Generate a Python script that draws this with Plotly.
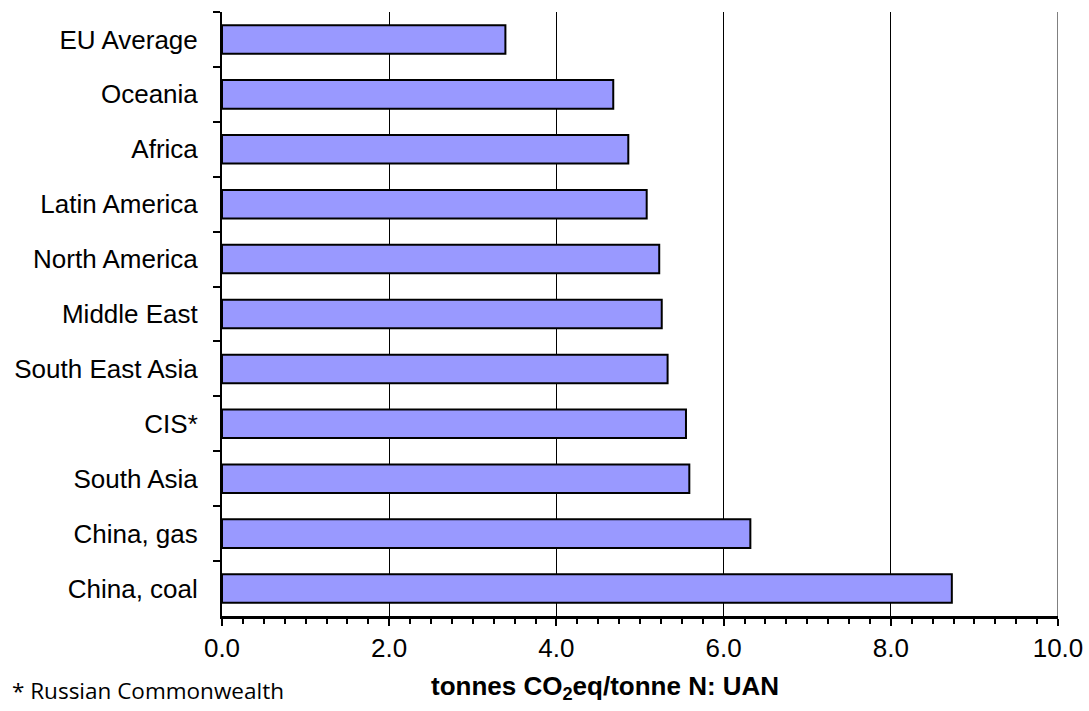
import plotly.graph_objects as go

categories = ["EU Average", "Oceania", "Africa", "Latin America", "North America",
              "Middle East", "South East Asia", "CIS*", "South Asia",
              "China, gas", "China, coal"]
values = [3.39, 4.68, 4.86, 5.08, 5.23, 5.26, 5.33, 5.55, 5.59, 6.32, 8.73]
x_tickvals = [0, 2, 4, 6, 8, 10]
x_ticktext = ["0.0", "2.0", "4.0", "6.0", "8.0", "10.0"]

fig = go.Figure()
fig.add_trace(go.Bar(
    x=values, y=categories, orientation="h",
    width=0.52,
    marker=dict(color="#9999FF", line=dict(color="black", width=2)),
))

fig.update_layout(
    width=1089, height=711,
    margin=dict(l=222, r=31, t=12, b=95, autoexpand=False),
    plot_bgcolor="white", paper_bgcolor="white",
    showlegend=False,
    font=dict(family="Liberation Sans, Arial, sans-serif", color="black"),
)

fig.update_xaxes(
    range=[0, 10],
    tickvals=x_tickvals, ticktext=x_ticktext,
    ticks="outside", ticklen=7, tickwidth=2, tickcolor="black",
    tickfont=dict(size=26, color="black"),
    showgrid=True, gridcolor="black", gridwidth=1,
    showline=True, linecolor="black", linewidth=2.5,
    zeroline=False, automargin=False,
    minor=dict(dtick=0.25, ticks="outside", ticklen=5, tickwidth=1.5, tickcolor="black", showgrid=False),
    ticklabelstandoff=0,
)
fig.update_yaxes(
    categoryorder="array", categoryarray=categories,
    autorange="reversed",
    tickson="boundaries",
    ticks="outside", ticklen=7, tickwidth=2, tickcolor="black",
    tickfont=dict(size=26, color="black"),
    showgrid=False, automargin=False,
    showline=True, linecolor="black", linewidth=2,
    ticklabelstandoff=17,
)

# gridline at the right edge (x = 10)
fig.add_shape(type="line", xref="x", yref="paper", x0=x_tickvals[-1], x1=x_tickvals[-1],
              y0=0, y1=1, line=dict(color="black", width=1), layer="below")

fig.add_annotation(
    text="<b>tonnes CO<sub>2</sub>eq/tonne N: UAN</b>",
    xref="paper", yref="paper", x=(605 - 222) / (1058 - 222), y=-(690 - 618) / 606,
    xanchor="center", yanchor="middle", showarrow=False,
    font=dict(size=26, family="Liberation Sans, Arial, sans-serif", color="black"),
)
fig.add_annotation(
    text="* Russian Commonwealth",
    xref="paper", yref="paper", x=-(222 - 10) / 836, y=-(693 - 618) / 606,
    xanchor="left", yanchor="middle", showarrow=False,
    font=dict(size=22.5, family="Open Sans, sans-serif", color="black"),
)

fig.write_html("out.html", config={"displayModeBar": False},
               post_script="document.body.style.margin='0';")
